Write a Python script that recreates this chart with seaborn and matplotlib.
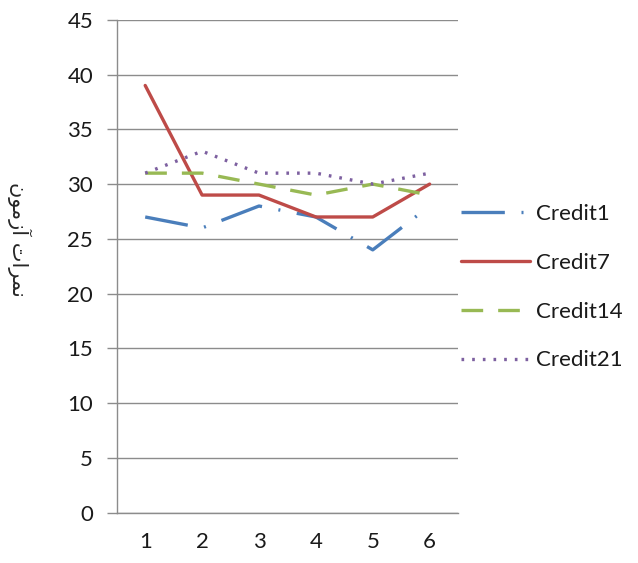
import pandas as pd
import matplotlib.pyplot as plt
import seaborn as sns
from matplotlib.ticker import MultipleLocator, FixedLocator

# Data
sessions = [1, 2, 3, 4, 5, 6]
credit1 = [27, 26, 28, 27, 24, 28]
credit7 = [39, 29, 29, 27, 27, 30]
credit14 = [31, 31, 30, 29, 30, 29]
credit21 = [31, 33, 31, 31, 30, 31]
series_names = ['Credit1', 'Credit7', 'Credit14', 'Credit21']

# y label "نمرات آزمون", written in Arabic presentation forms in visual order
# (matplotlib does no Arabic shaping itself)
ylabel_text = '\uFEE5\uFEEE\uFEE3\uFEAF\uFE81 \uFE95\uFE8D\uFEAE\uFEE4\uFEE7'

df = pd.DataFrame({
    'session': sessions * 4,
    'score': credit1 + credit7 + credit14 + credit21,
    'series': [n for n in series_names for _ in sessions],
})

colors = {'Credit1': '#4A7EBB', 'Credit7': '#BE4B48', 'Credit14': '#98B954', 'Credit21': '#7D60A0'}
dashes = {'Credit1': (13, 5, 0.6, 5), 'Credit7': '', 'Credit14': (6.5, 4.5), 'Credit21': (0.8, 2.4)}

sns.set_style('white')
plt.rcParams['font.family'] = ['Lato', 'DejaVu Sans']

fig = plt.figure(figsize=(6.38, 5.63), dpi=100)
ax = fig.add_axes([0.183, 0.089, 0.535, 0.876])

sns.lineplot(data=df, x='session', y='score', hue='series', style='series',
             palette=colors, dashes=dashes, linewidth=2.4, ax=ax)

ax.set_xlim(0.5, 6.5)
ax.set_ylim(0, 45)
ax.yaxis.set_major_locator(MultipleLocator(5))
ax.set_xticks(sessions)
ax.xaxis.set_minor_locator(FixedLocator([0.5 + i for i in range(7)]))
ax.tick_params(axis='x', which='major', length=0, labelsize=16, pad=14, colors='#1a1a1a')
ax.tick_params(axis='x', which='minor', length=7, width=1, color='#8c8c8c', direction='out')
ax.tick_params(axis='y', which='major', length=7, width=1, color='#8c8c8c', labelsize=16,
               pad=10, labelcolor='#1a1a1a', direction='out', left=True)
ax.grid(axis='y', color='#8c8c8c', linewidth=1)
ax.grid(axis='x', visible=False)
for side in ['top', 'right']:
    ax.spines[side].set_visible(False)
for side in ['left', 'bottom']:
    ax.spines[side].set_color('#8c8c8c')
    ax.spines[side].set_linewidth(1)
ax.set_xlabel('')
ax.set_ylabel('')

handles, labels = ax.get_legend_handles_labels()
ax.get_legend().remove()
fig.legend(handles, labels, loc='center left', bbox_to_anchor=(0.722, 0.49),
           frameon=False, fontsize=16, handlelength=3.1, handletextpad=0.3,
           labelspacing=1.3, labelcolor='#1a1a1a', borderpad=0, borderaxespad=0)

fig.text(0.03, 0.575, ylabel_text, rotation=270, ha='center', va='center',
         fontsize=15, family=['DejaVu Sans'])

fig.savefig('out.png', dpi=100)
